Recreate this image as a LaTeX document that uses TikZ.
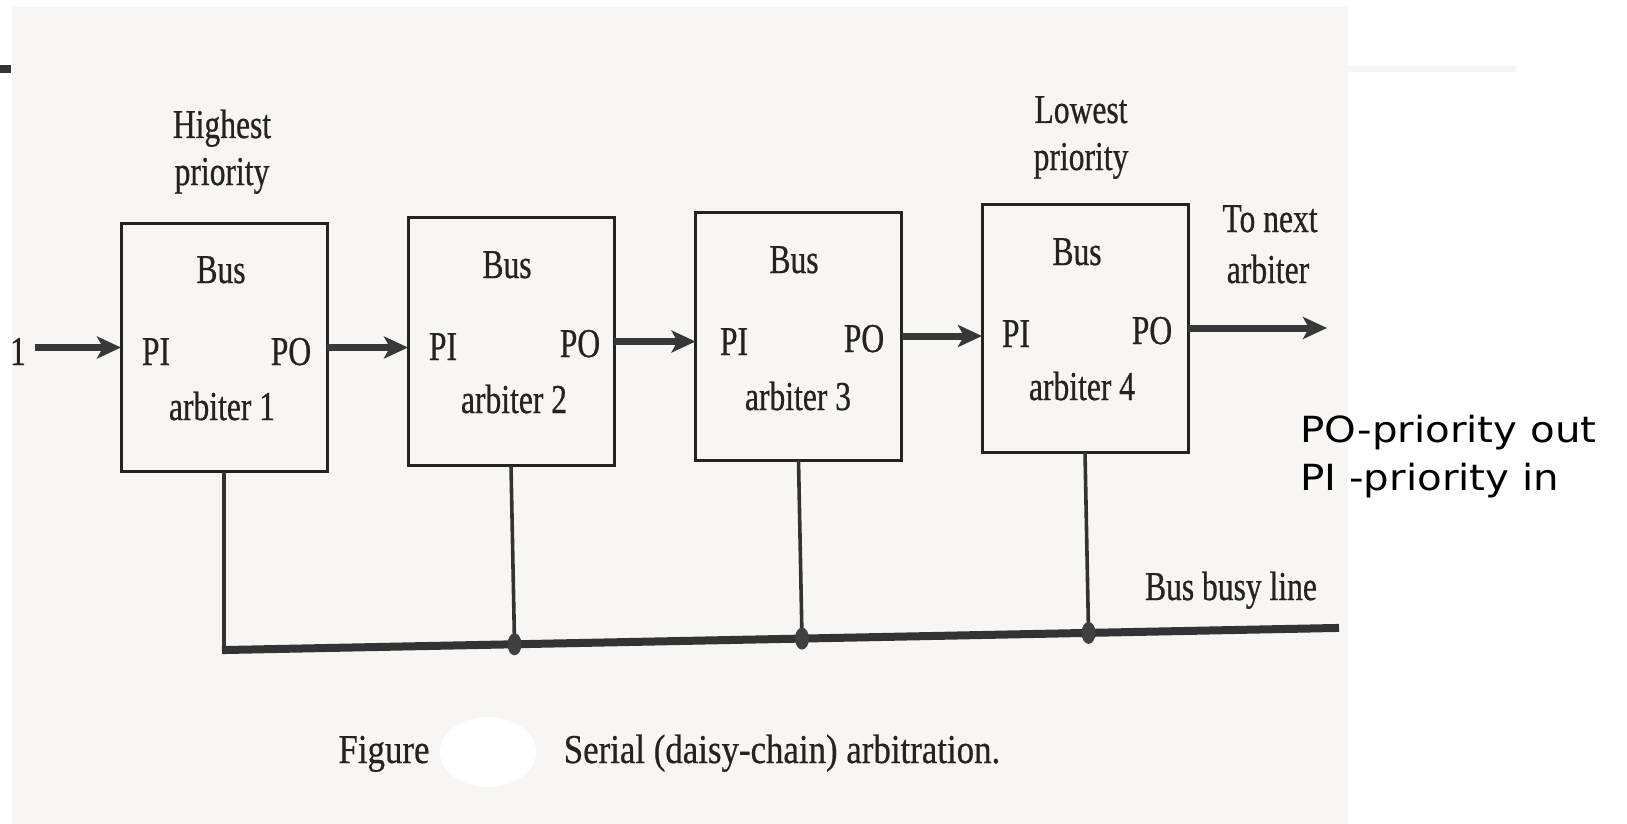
\documentclass[tikz,border=0pt]{standalone}
\usepackage{fontspec}
\setmainfont{Liberation Serif}
\newfontfamily\scanfont[FakeStretch=0.77,FakeBold=0.6]{Liberation Serif}
\newfontfamily\capfont[FakeStretch=0.85,FakeBold=0.5]{Liberation Serif}
\newfontfamily\notefont[FakeStretch=1.12]{DejaVu Sans}
\usetikzlibrary{arrows.meta,calc}
\definecolor{paper}{RGB}{248,246,243}
\definecolor{inkc}{RGB}{36,34,34}

\begin{document}
\begin{tikzpicture}[x=0.5pt,y=-0.5pt,
  arbiter/.style={draw=inkc, line width=1.5pt, minimum width=103pt,
    minimum height=124pt, inner sep=0pt, outer sep=0pt},
  lbl/.style={anchor=base, inner sep=0pt, text=inkc,
    font=\scanfont\fontsize{20.5}{24}\selectfont},
  caption/.style={anchor=base, inner sep=0pt, text=inkc,
    font=\capfont\fontsize{20.5}{24}\selectfont},
  chain/.style={draw=black!78, line width=3.5pt,
    -{Stealth[length=12pt,width=11pt,inset=3pt]}},
  drop/.style={draw=black!80, line width=1.8pt},
  busline/.style={draw=black!80, line width=4pt, line cap=rect},
  tap/.style={fill=black!75},
  note/.style={anchor=base west, inner sep=0pt, text=black,
    font=\notefont\fontsize{18}{22}\selectfont}
]
\useasboundingbox (0,0) rectangle (1627,824);
% page and scanned sheet
\fill[white] (0,0) rectangle (1627,824);
\fill[paper] (12,7) rectangle (1348,824);
\fill[black!80] (0,65) rectangle (11,73);
\fill[black!4] (1348,66) rectangle (1517,72);

% the four arbiters
\node[arbiter] (b1) at (224,347.5) {};
\node[arbiter] (b2) at (511,341.5) {};
\node[arbiter] (b3) at (798.5,336) {};
\node[arbiter] (b4) at (1085,328) {};

% texts inside the arbiters
\node[lbl] (b1bus) at (221,283) {Bus};
\node[lbl] (b1pi)  at (156,365) {PI};
\node[lbl] (b1po)  at (291,365) {PO};
\node[lbl] (b1nm)  at (222,420) {arbiter 1};

\node[lbl] (b2bus) at (507,278) {Bus};
\node[lbl] (b2pi)  at (443,360) {PI};
\node[lbl] (b2po)  at (580,357) {PO};
\node[lbl] (b2nm)  at (514,413) {arbiter 2};

\node[lbl] (b3bus) at (794,273) {Bus};
\node[lbl] (b3pi)  at (734,355) {PI};
\node[lbl] (b3po)  at (864,352) {PO};
\node[lbl] (b3nm)  at (798,410) {arbiter 3};

\node[lbl] (b4bus) at (1077,265) {Bus};
\node[lbl] (b4pi)  at (1016,347) {PI};
\node[lbl] (b4po)  at (1152,344) {PO};
\node[lbl] (b4nm)  at (1082,400) {arbiter 4};

% priority captions and outside labels
\node[lbl] (hi1) at (222,138) {Highest};
\node[lbl] (hi2) at (222,185) {priority};
\node[lbl] (lo1) at (1081,123) {Lowest};
\node[lbl] (lo2) at (1081,170) {priority};
\node[lbl] (nx1) at (1270,232) {To next};
\node[lbl] (nx2) at (1268,283) {arbiter};
\node[lbl] (one) at (18,365) {1};
\node[lbl] (busy) at (1231,600) {Bus busy line};

% priority chain
\coordinate (src) at (35,347.5);
\coordinate (next) at (1327,328);
\draw[chain] (src) -- (b1.west);
\draw[chain] (b1.east) -- (b1.east -| b2.west);
\draw[chain] (b2.east) -- (b2.east -| b3.west);
\draw[chain] (b3.east) -- (b3.east -| b4.west);
\draw[chain] (b4.east) -- (next);

% bus busy line with its taps
\coordinate (busL) at (226,650);
\coordinate (busR) at (1335,628);
\draw[drop] (b1.south) -- (b1.south |- busL) -- (busL);
\draw[busline] (busL) -- (busR);
\foreach \k in {2,3,4}{
  \coordinate (j\k) at ($(busL)!(b\k.south)!(busR)$);
  \draw[drop] (b\k.south) -- (j\k);
  \fill[tap] (j\k) ellipse [x radius=7, y radius=11];
}

% figure caption
\fill[white] (488,752) ellipse [x radius=48, y radius=35];
\node[caption] (fig) at (384,763) {Figure};
\node[caption] (cap) at (782,763) {Serial (daisy-chain) arbitration.};

% legend
\node[note] (lgo) at (1300,442) {PO-priority out};
\node[note] (lgi) at (1300,490) {PI -priority in};
\end{tikzpicture}
\end{document}
